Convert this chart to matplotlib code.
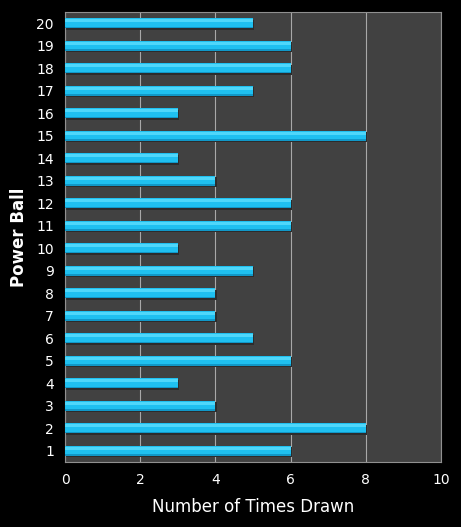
import numpy as np
import matplotlib.pyplot as plt

balls = list(range(1, 21))
times_drawn = [6, 8, 4, 3, 6, 5, 4, 4, 5, 3, 6, 6, 4, 3, 8, 3, 5, 6, 6, 5]

fig = plt.figure(figsize=(4.61, 5.27), dpi=100, facecolor='black')
ax = fig.add_axes([65/461, 65/527, 376/461, 450/527])
ax.set_facecolor('#414141')

y = np.array(balls)
# soft shadow, body, dark lower edge and light top strip for the glossy look
ax.barh(y - 0.06, times_drawn, height=0.45, left=0.03, color='#2c2c2c', linewidth=0, zorder=2)
ax.barh(y, times_drawn, height=0.45, color='#1fc0f0', linewidth=0, zorder=3)
ax.barh(y - 0.19, times_drawn, height=0.07, color='#1198c8', linewidth=0, zorder=4)
ax.barh(y + 0.12, times_drawn, height=0.13, color='#4fd7fa', linewidth=0, zorder=4)

ax.set_xlim(0, 10)
ax.set_ylim(0.5, 20.5)
ax.set_xticks(range(0, 11, 2))
ax.set_yticks(balls)
ax.grid(axis='x', color='#a8a8a8', linewidth=0.8, zorder=1)
ax.tick_params(colors='white', labelsize=10, length=0, pad=8)
for s in ax.spines.values():
    s.set_color('#909090')
ax.set_xlabel('Number of Times Drawn', color='white', fontsize=12, labelpad=8)
ax.set_ylabel('Power Ball', color='white', fontsize=12, fontweight='bold', labelpad=6)

fig.savefig('out.png', dpi=100, facecolor='black')
